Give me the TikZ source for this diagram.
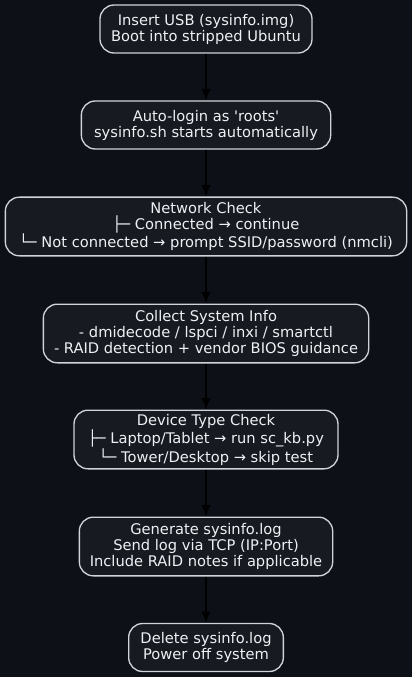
\documentclass[tikz,border=0pt]{standalone}
\usepackage{fontspec}
\setmainfont{DejaVu Sans}[Ligatures=TeXOff]
\usepackage{xcolor}
\usepackage{tikz}
\usetikzlibrary{arrows.meta}

\definecolor{pagebg}{HTML}{0D1117}
\definecolor{boxbg}{HTML}{171B21}
\definecolor{boxline}{HTML}{D0D4D9}
\definecolor{boxtext}{HTML}{EEF1F4}

\begin{document}
\begin{tikzpicture}[
        x=0.75pt, y=-0.75pt,
        stage/.style={draw=boxline, line width=1pt, fill=boxbg, rounded corners=10.5pt,
            text=boxtext, align=center, font=\fontsize{11}{12}\selectfont,
            inner xsep=0pt, inner ysep=0pt},
        flow/.style={black, line width=1pt, -{Latex[length=8.5pt, width=7pt]}}
    ]
    \fill[pagebg] (0,0) rectangle (412,677);
    \useasboundingbox (0,0) rectangle (412,677);
    \node[stage, minimum width=159pt, minimum height=36pt] (usb) at (206,29)
        {Insert USB (sysinfo.img)\\Boot into stripped Ubuntu};
    \node[stage, minimum width=187pt, minimum height=36pt] (login) at (206,125)
        {Auto-login as 'roots'\\sysinfo.sh starts automatically};
    \node[stage, minimum width=301pt, minimum height=44pt] (net) at (206,226.5)
        {Network Check\\├─ Connected → continue\\└─ Not connected → prompt SSID/password (nmcli)};
    \node[stage, minimum width=244pt, minimum height=44pt] (info) at (206,333.5)
        {Collect System Info\\- dmidecode / lspci / inxi / smartctl\\- RAID detection + vendor BIOS guidance};
    \node[stage, minimum width=198pt, minimum height=44pt] (dev) at (206,439.5)
        {Device Type Check\\├─ Laptop/Tablet → run sc\_kb.py\\└─ Tower/Desktop → skip test};
    \node[stage, minimum width=190pt, minimum height=44pt] (log) at (206,546.5)
        {Generate sysinfo.log\\Send log via TCP (IP:Port)\\Include RAID notes if applicable};
    \node[stage, minimum width=116pt, minimum height=36pt] (off) at (206,647.5)
        {Delete sysinfo.log\\Power off system};
    \draw[flow] (usb) -- (login);
    \draw[flow] (login) -- (net);
    \draw[flow] (net) -- (info);
    \draw[flow] (info) -- (dev);
    \draw[flow] (dev) -- (log);
    \draw[flow] (log) -- (off);
\end{tikzpicture}
\end{document}
